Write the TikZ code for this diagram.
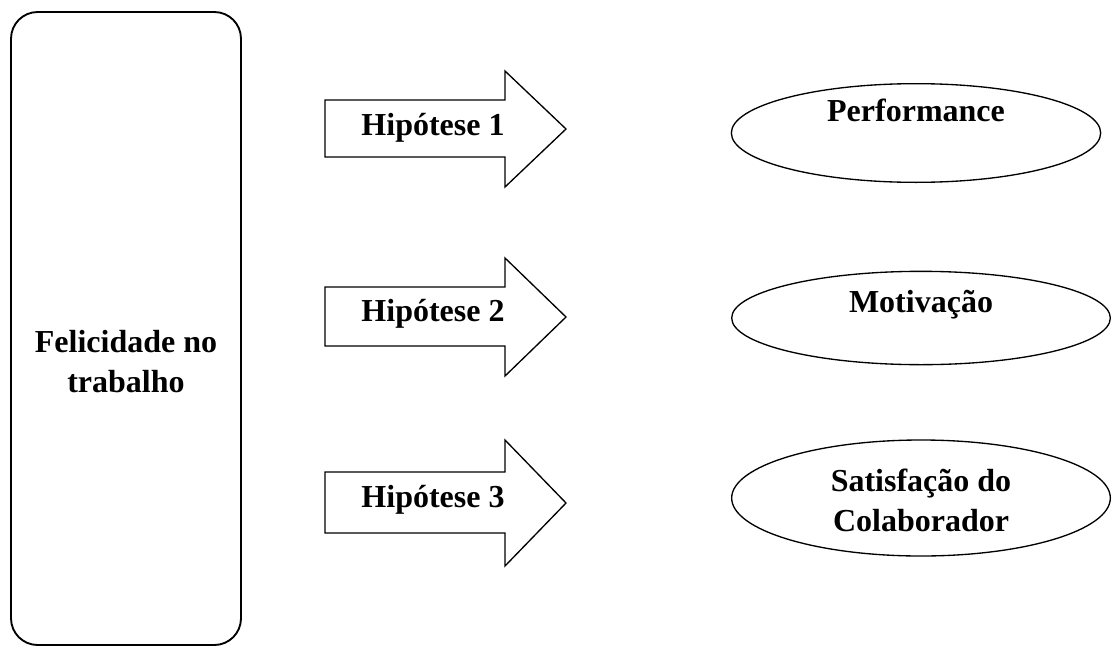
\documentclass[tikz,border=0pt]{standalone}
\usepackage{fontspec}
\setmainfont{Liberation Serif}
\usetikzlibrary{shapes.geometric}

\begin{document}
\begin{tikzpicture}[x=0.75pt, y=-0.75pt,
	bigbox/.style={draw, line width=1.4pt, rounded corners=20pt},
	blockarrow/.style={draw, line width=1pt, fill=white, line join=miter},
	oval/.style={draw, ellipse, line width=1pt, inner sep=0pt},
	lbl/.style={font=\bfseries\fontsize{24}{30}\selectfont, align=center, inner sep=0pt}]

	% Frame of the picture:
	\useasboundingbox (0,0) rectangle (1112,646);

	% Left block:
	\draw[bigbox] (11,12) rectangle (241,645);
	\node[lbl] (felic) at (126,362) {Felicidade no\\trabalho};

	% Block arrows (hypotheses):
	\draw[blockarrow] (325,100) -- (505,100) -- (505,71) -- (566,129) -- (505,187) -- (505,157) -- (325,157) -- cycle;
	\node[lbl] (hip1) at (433,128) {Hipótese 1};
	\draw[blockarrow] (325,287) -- (505,287) -- (505,258) -- (566,317) -- (505,376) -- (505,346) -- (325,346) -- cycle;
	\node[lbl] (hip2) at (433,314) {Hipótese 2};
	\draw[blockarrow] (325,472) -- (505,472) -- (505,440) -- (566,503) -- (505,566) -- (505,533) -- (325,533) -- cycle;
	\node[lbl] (hip3) at (433,500) {Hipótese 3};

	% Outcomes:
	\node[oval, minimum width=277pt, minimum height=74pt] (perf) at (916,133) {};
	\node[lbl] (perft) at (916,110) {Performance};
	\node[oval, minimum width=284pt, minimum height=70pt] (motiv) at (921,318) {};
	\node[lbl] (motivt) at (921,305) {Motivação};
	\node[oval, minimum width=284pt, minimum height=87pt] (satis) at (921,498) {};
	\node[lbl] (satist) at (921,500) {Satisfação do\\Colaborador};

\end{tikzpicture}
\end{document}
